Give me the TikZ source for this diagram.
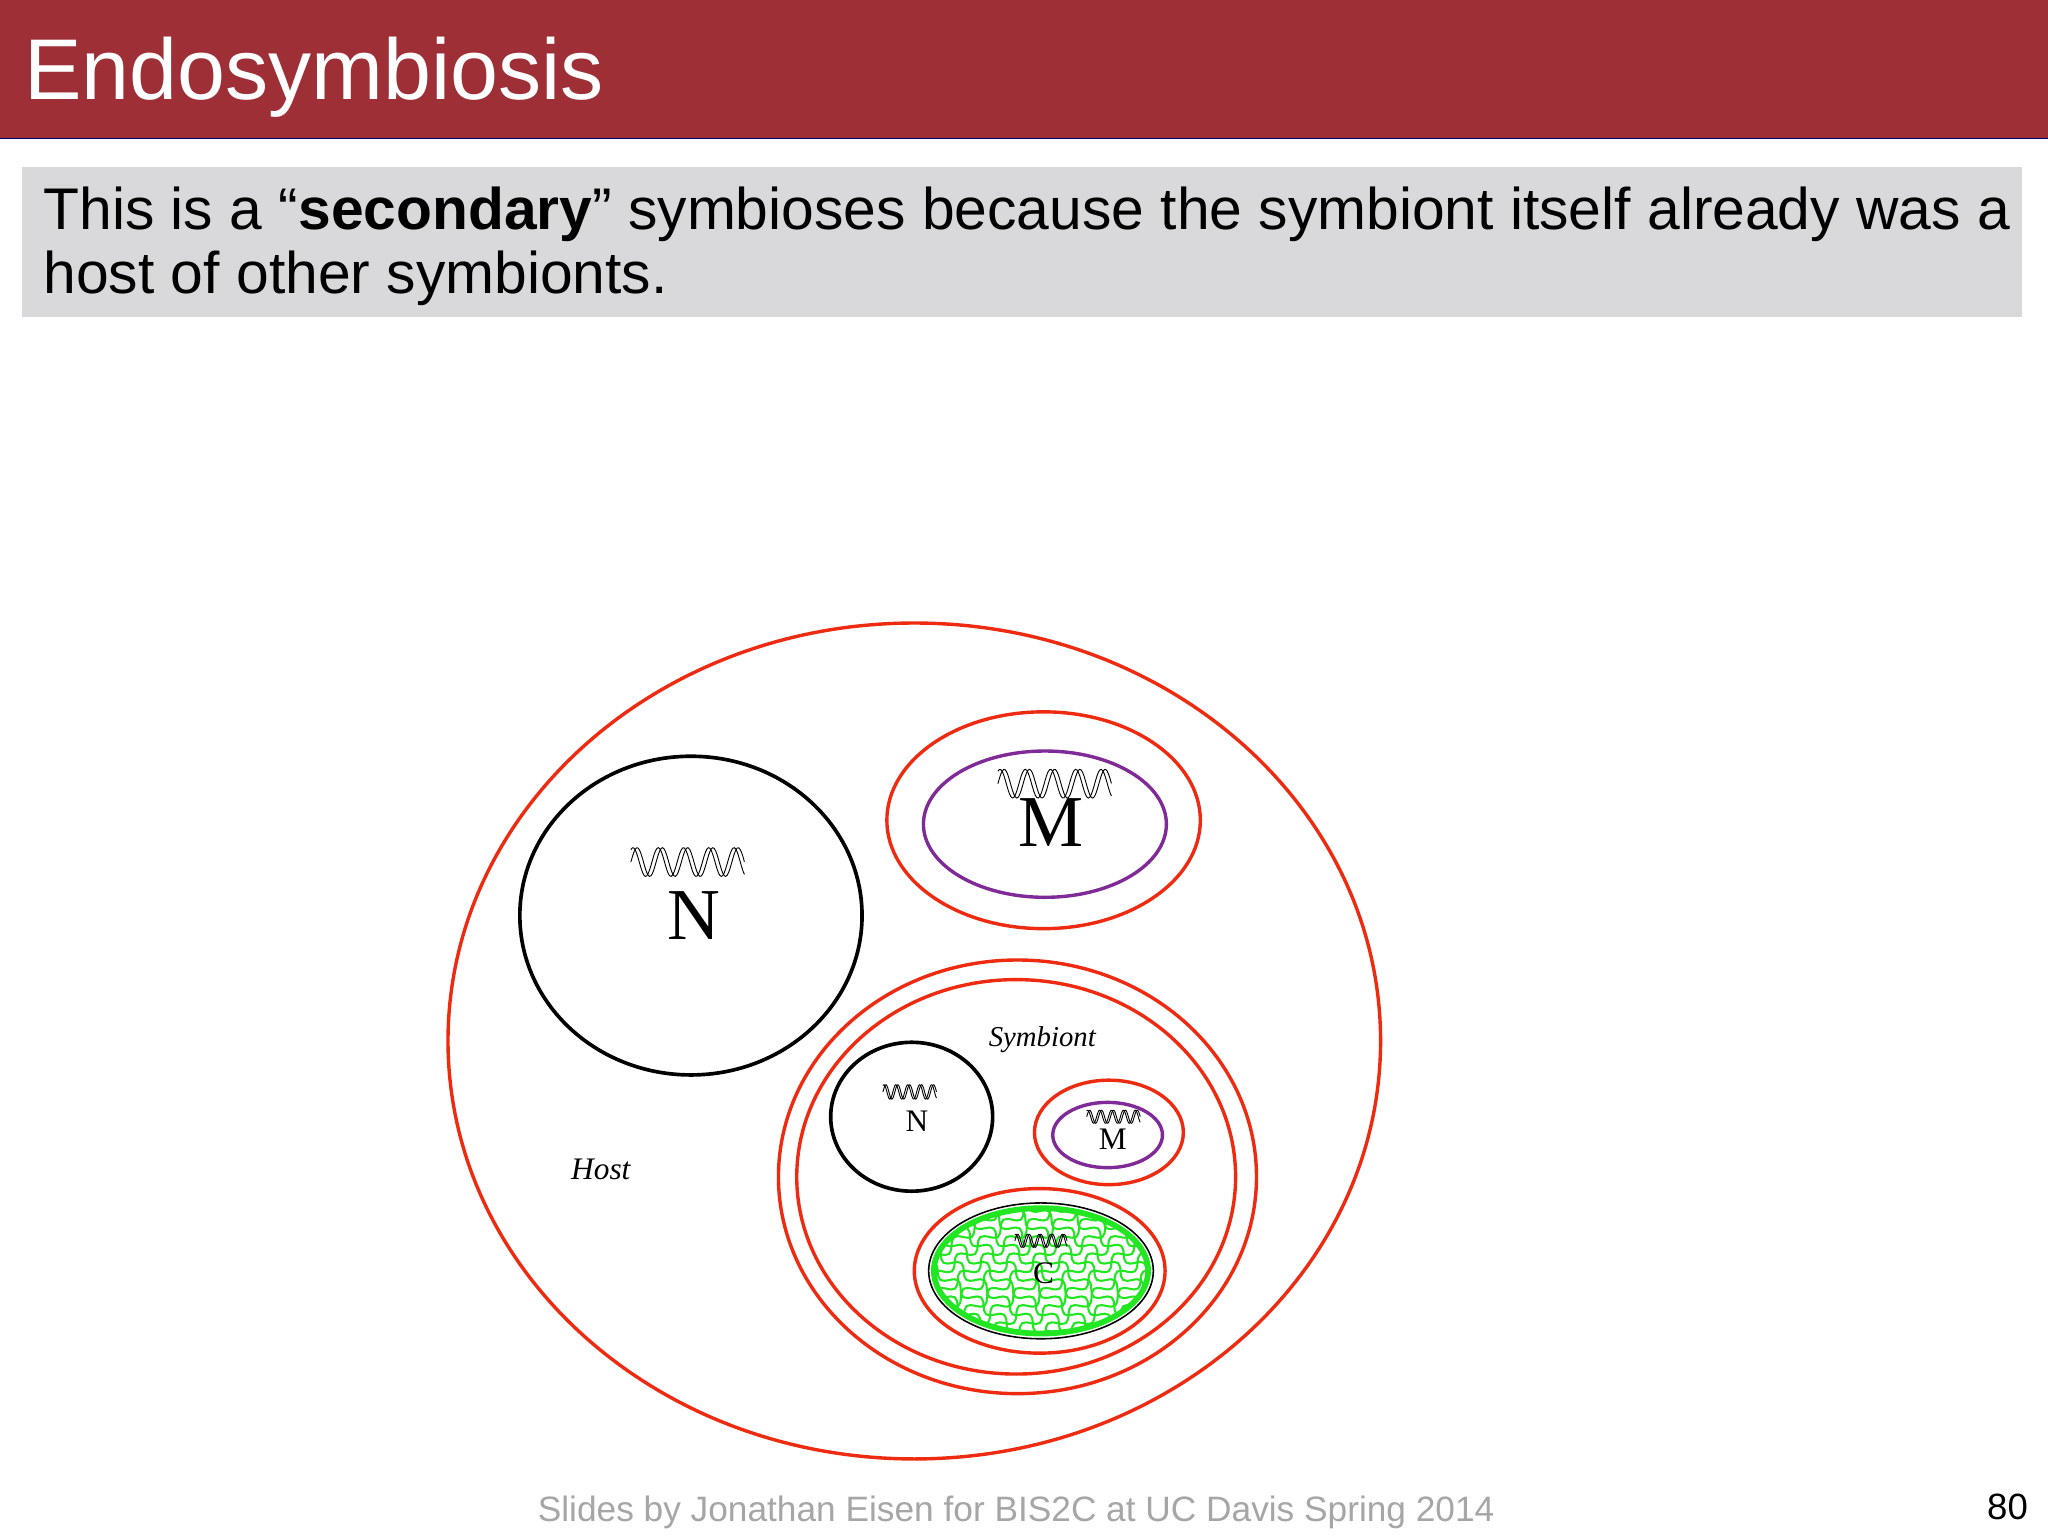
\documentclass[tikz,border=0pt]{standalone}
\usepackage{fontspec}
\setmainfont{Liberation Sans}
\newfontfamily\serifff{Liberation Serif}
\usetikzlibrary{decorations.pathmorphing}
\definecolor{titlered}{HTML}{9E2F36}
\definecolor{boxgray}{HTML}{D9D8DB}
\definecolor{memred}{HTML}{EE2A10}
\definecolor{mpurple}{HTML}{7F2A96}
\definecolor{cgreen}{HTML}{22E622}
\definecolor{footgray}{HTML}{A6A6A6}
\newcommand\mydna[4]{%
  \draw[line width=0.35pt] plot[domain=0:1,samples=80] ({#1+#3*\x},{#2-#4/2*sin(\x*4.5*360)});
  \draw[line width=0.35pt] plot[domain=0:1,samples=80] ({#1+#3*\x},{#2-#4/2*sin(\x*4.5*360+60)});}
\tikzset{mem/.style={draw=memred,line width=1.3pt},
  blk/.style={draw=black,line width=1.4pt},
  pur/.style={draw=mpurple,line width=1.3pt},
  lab/.style={font=\serifff,inner sep=0pt,anchor=base}}
\begin{document}
\begin{tikzpicture}[x=0.5pt,y=-0.5pt]
\useasboundingbox (0,0) rectangle (1568,1176);
\fill[white] (0,0) rectangle (1568,1176);
\fill[titlered] (0,0) rectangle (1568,106);
\draw[blue!40!black,line width=0.4pt] (0,106) -- (1568,106);
\node[anchor=base west,inner sep=0pt,text=white,font=\fontsize{33}{38}\selectfont] (title) at (18,76) {Endosymbiosis};
\fill[boxgray] (17,128) rectangle (1548,243);
\node[anchor=base west,inner sep=0pt,font=\fontsize{22.5}{24.5}\selectfont,align=left] (txt) at (33,176)
 {This is a “\textbf{secondary}” symbioses because the symbiont itself already was a};
\node[anchor=base west,inner sep=0pt,font=\fontsize{22.5}{24.5}\selectfont] (txt2) at (33,225) {host of other symbionts.};
\node[anchor=base,inner sep=0pt,text=footgray,font=\fontsize{13.5}{15}\selectfont] (foot) at (778,1165) {Slides by Jonathan Eisen for BIS2C at UC Davis Spring 2014};
\node[anchor=base east,inner sep=0pt,font=\fontsize{14}{15}\selectfont] (num) at (1553,1163) {80};
% cells
\draw[mem] (700,797) ellipse [x radius=357,y radius=320];
\draw[blk] (529,701) ellipse [x radius=131,y radius=122];
\draw[mem] (799,628) ellipse [x radius=120,y radius=83];
\draw[pur] (800,631) ellipse [x radius=93,y radius=56];
\draw[mem] (779,901) ellipse [x radius=183,y radius=166];
\draw[mem] (778,901) ellipse [x radius=168,y radius=151];
\draw[blk] (698,855) ellipse [x radius=62,y radius=57];
\draw[mem] (849,867) ellipse [x radius=57,y radius=40];
\draw[pur] (848,869) ellipse [x radius=42,y radius=25];
\draw[mem] (796,973) ellipse [x radius=96,y radius=63];
\draw[black,line width=0.6pt] (797,973) ellipse [x radius=86,y radius=52];
\begin{scope}
\clip (797,973) ellipse [x radius=82,y radius=48];
\foreach \k in {-200,-180,...,200}{
  \draw[cgreen,line width=0.8pt,decorate,decoration={snake,amplitude=2pt,segment length=11pt}] (700+\k,900) -- (900+\k,1050);
  \draw[cgreen,line width=0.8pt,decorate,decoration={snake,amplitude=2pt,segment length=11pt}] (900+\k,900) -- (700+\k,1050);}
\end{scope}
\draw[cgreen,line width=2.2pt] (797,973) ellipse [x radius=82,y radius=48];
% DNA
\mydna{483}{660}{87}{22}
\mydna{764}{600}{87}{22}
\mydna{676}{836}{41}{11}
\mydna{832}{855}{41}{10}
\mydna{777}{950}{40}{10}
% labels
\node[lab,font=\serifff\fontsize{28}{30}\selectfont] (Nbig) at (531,719) {N};
\node[lab,font=\serifff\fontsize{28}{30}\selectfont] (Mbig) at (805,648) {M};
\node[lab,font=\serifff\itshape\fontsize{11}{12}\selectfont] (sym) at (798,801) {Symbiont};
\node[lab,font=\serifff\itshape\fontsize{12}{13}\selectfont] (host) at (460,903) {Host};
\node[lab,font=\serifff\fontsize{12}{13}\selectfont] (Nsm) at (702,866) {N};
\node[lab,font=\serifff\fontsize{12}{13}\selectfont] (Msm) at (852,880) {M};
\node[lab,font=\serifff\fontsize{12}{13}\selectfont] (C) at (799,983) {C};
\end{tikzpicture}
\end{document}
